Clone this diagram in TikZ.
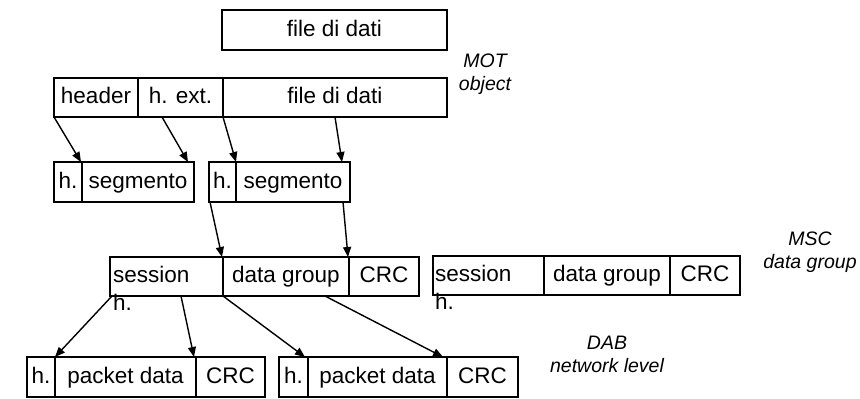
\documentclass[tikz,border=0pt]{standalone}
\usepackage{fontspec}
\setmainfont{Liberation Sans}
\usetikzlibrary{arrows.meta,calc}

% cell: one field of a packet layout, given by its left/right/top/bottom edges
\newcommand{\pktcell}[6]{%
  \node[cell, minimum width={(#3)-(#2)}, minimum height={(#5)-(#4)}]
    (#1) at ({((#2)+(#3))/2},{((#4)+(#5))/2}) {#6};}

\begin{document}
\begin{tikzpicture}[x=1pt,y=-1pt,
  cell/.style={draw, line width=1.5pt, inner sep=0pt, outer sep=0pt,
    text height=16.5pt, text depth=4.5pt,
    font=\fontsize{22.5}{26}\selectfont},
  txt/.style={inner sep=0pt, font=\fontsize{22.5}{28}\selectfont},
  lab/.style={inner sep=0pt, align=center,
    font=\fontsize{19.5}{22.5}\selectfont\itshape},
  arr/.style={-{Triangle[length=10pt,width=8pt]}, line width=1.4pt}]

\useasboundingbox (0,0) rectangle (860,399);

% the plain data file
\pktcell{ftop}{222}{447}{10}{50}{file di dati}

% MOT object
\pktcell{hdr}{54}{138}{78}{117}{header}
\pktcell{hext}{138}{223}{78}{117}{h. ext.}
\pktcell{fmot}{223}{447}{78}{117}{file di dati}
\node[lab, anchor=base] (motlab) at (485,90) {MOT\\object};

% segments
\pktcell{sah}{54}{82}{162}{202}{h.}
\pktcell{sas}{82}{194}{162}{202}{segmento}
\pktcell{sbh}{209}{236}{162}{202}{h.}
\pktcell{sbs}{236}{350}{162}{202}{segmento}

% MSC data groups
\pktcell{gas}{110}{223}{257}{296}{}
\pktcell{gad}{223}{349}{257}{296}{data group}
\pktcell{gac}{349}{419}{257}{296}{CRC}
\node[txt, anchor=base west] (gasa) at (113,282) {session};
\node[txt, anchor=base west] (gasb) at (113,310) {h.};

\pktcell{gbs}{433}{544}{256}{295}{}
\pktcell{gbd}{544}{670}{256}{295}{data group}
\pktcell{gbc}{670}{740}{256}{295}{CRC}
\node[txt, anchor=base west] (gbsa) at (435,281) {session};
\node[txt, anchor=base west] (gbsb) at (435,309) {h.};
\node[lab, anchor=base] (msclab) at (810,268) {MSC\\data group};

% DAB packets
\pktcell{pah}{27}{55}{357}{397}{h.}
\pktcell{pad}{55}{196}{357}{397}{packet data}
\pktcell{pac}{196}{265}{357}{397}{CRC}
\pktcell{pbh}{279}{308}{357}{397}{h.}
\pktcell{pbd}{308}{447}{357}{397}{packet data}
\pktcell{pbc}{447}{518}{357}{397}{CRC}
\node[lab, anchor=base] (dablab) at (607,372) {DAB\\network level};

% MOT object -> segments
\draw[arr] (hdr.south west) -- ($(sah.north east)+(-1,0)$);
\draw[arr] ($(hext.south west)+(24,0)$) -- ($(sas.north east)+(-6,0)$);
\draw[arr] (fmot.south west) -- (sbh.north east);
\draw[arr] ($(fmot.south west)+(112,0)$) -- ($(sbs.north east)+(-8,0)$);

% segments -> MSC data group
\draw[arr] ($(sbh.south west)+(1,0)$) -- ($(gas.north east)+(-1,0)$);
\draw[arr] ($(sbs.south east)+(-7,0)$) -- ($(gad.north east)+(-1,0)$);

% MSC data group -> packets
\draw[arr] ($(gas.south west)+(2,0)$) -- (pah.north east);
\draw[arr] ($(gas.south west)+(71,0)$) -- ($(pad.north east)+(-2,0)$);
\draw[arr] (gas.south east) -- ($(pbh.north east)+(-3,0)$);
\draw[arr] ($(gad.south west)+(102,0)$) -- ($(pbd.north east)+(-4,0)$);

\end{tikzpicture}
\end{document}
